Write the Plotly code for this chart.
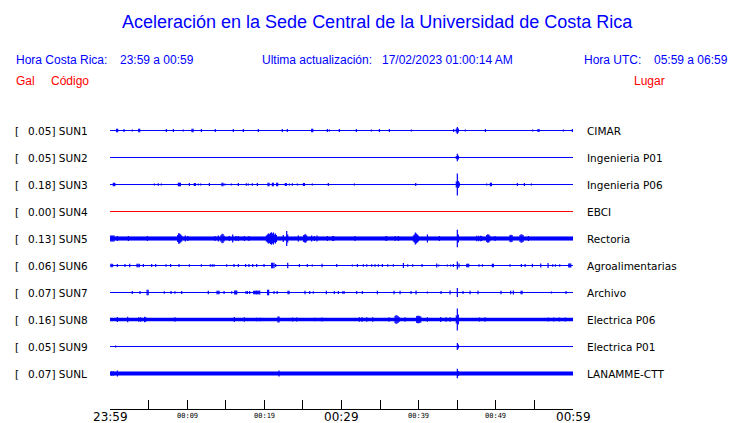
import plotly.graph_objects as go

# ---------------- data ----------------
STATIONS = ["SUN1", "SUN2", "SUN3", "SUN4", "SUN5", "SUN6", "SUN7", "SUN8", "SUN9", "SUNL"]
PEAK_GAL = [0.05, 0.05, 0.18, 0.00, 0.13, 0.06, 0.07, 0.16, 0.05, 0.07]
PLACES = ["CIMAR", "Ingenieria P01", "Ingenieria P06", "EBCI", "Rectoria",
          "Agroalimentarias", "Archivo", "Electrica P06", "Electrica P01", "LANAMME-CTT"]
# background noise half-width of each trace (amplitude units)
NOISE = [0, 0, 0, 0, 1.8, 0, 0, 1.5, 0, 1.7]

# event times (minutes after 23:59) and half amplitudes for each station
T_SUN1 = [0.86, 0.99, 1.81, 2.89, 3.72, 3.85, 7.30, 8.21, 9.50, 10.63, 10.76, 11.84, 13.65, 15.98, 17.28,
          19.22, 22.33, 22.98, 26.14, 26.27, 28.17, 28.43, 29.72, 31.93, 33.87, 34.91, 36.20, 39.05, 44.54,
          44.88, 45.01, 45.14, 46.05, 48.65, 54.78, 55.47, 55.60, 58.75, 59.92]
A_SUN1 = [1.8, 1.8, 1.5, 1, 1.8, 1.8, 1.5, 1.5, 1, 1.8, 1.8, 1.5, 1.5, 1.5, 1.5,
          1.5, 1.5, 1.5, 1.8, 1.8, 1.5, 1, 1.5, 1.5, 1, 1.5, 1.5, 1, 1.5,
          2, 3.5, 2, 1, 1.5, 1, 1.5, 1.5, 1, 1.5]

T_SUN2 = [44.88, 45.01, 45.14]
A_SUN2 = [1.5, 3.8, 2]

T_SUN3 = [0.43, 0.56, 0.69, 5.75, 6.26, 6.65, 8.86, 8.99, 9.12, 10.28, 10.93, 11.06, 11.45, 11.75, 12.87,
          14.51, 14.64, 14.90, 15.72, 16.63, 17.67, 17.93, 18.45, 19.09, 20.48, 20.61, 21.04, 21.17, 21.60,
          21.73, 22.72, 22.85, 23.24, 23.63, 24.28, 25.06, 25.19, 26.22, 28.29, 31.67, 39.62, 44.88, 45.01,
          45.14, 45.27, 48.82, 49.29, 49.42, 52.79, 53.70, 54.61]
A_SUN3 = [1.8, 1.8, 1, 1, 1.2, 1, 1.7, 1.7, 1.7, 1.5, 1.5, 1.5, 1, 1, 1.5,
          1.7, 1.7, 1, 1, 1.5, 1.2, 1, 1.2, 1.5, 1.7, 1.7, 1.7, 1.7, 1.7,
          1.7, 1.5, 1.5, 1, 1.2, 1, 1.5, 1.5, 1, 1.5, 1, 1.5, 3, 11,
          3.5, 2, 1, 1.7, 1.7, 1.5, 1.5, 1]

T_SUN4 = []
A_SUN4 = []

T_SUN5 = [0.0, 0.13, 0.26, 0.39, 0.52, 0.95, 2.38, 4.84, 8.77, 8.90, 9.03, 9.16, 9.29, 9.76, 10.07,
          13.61, 14.04, 14.39, 14.52, 14.65, 14.78, 15.47, 15.90, 16.33, 16.63, 17.41, 18.01, 20.26, 20.39,
          20.52, 20.65, 20.78, 20.91, 21.04, 21.17, 21.30, 21.43, 21.56, 22.46, 22.90, 23.03, 24.41, 25.10,
          25.23, 25.36, 25.49, 26.13, 26.48, 26.83, 28.17, 28.86, 28.99, 31.75, 35.73, 35.86, 36.94, 37.37,
          39.31, 39.44, 39.57, 39.70, 39.83, 39.96, 41.13, 42.68, 45.01, 45.14, 47.52, 47.78, 48.04, 48.17,
          48.82, 48.95, 49.08, 49.21, 49.90, 51.84, 51.97, 52.10, 53.14, 53.27, 53.40, 53.53, 54.22]
A_SUN5 = [3, 3, 3, 3, 3, 2.5, 2.5, 2.5, 3.5, 5.3, 5, 4, 3, 3, 2.5,
          2.5, 3, 3.5, 4.7, 4.5, 3, 2.5, 4, 2.5, 2.5, 2.5, 2.5, 3, 4,
          5, 4.5, 5.5, 6.3, 5, 6, 4, 5, 3.5, 3.5, 7.5, 4, 3, 3.5,
          4, 4.2, 3, 3, 2.5, 3, 2.5, 2.5, 2.5, 2.5, 2.3, 2.3, 2.5, 2.5,
          3, 4, 6, 5, 4, 3, 4, 2.5, 8.8, 4, 2.8, 2.8, 2.8, 2.5,
          3.5, 4.2, 4, 3, 2.5, 3.5, 3.7, 3.5, 3.5, 4.2, 4, 3.5, 2.5]

T_SUN6 = [0.13, 0.26, 0.35, 0.95, 1.94, 2.55, 3.50, 3.63, 3.80, 4.32, 5.40, 5.92, 7.26, 7.86, 8.94,
          10.28, 11.84, 13.00, 13.26, 13.48, 15.12, 16.07, 16.63, 17.58, 18.01, 18.49, 19.01, 19.96, 20.95,
          21.08, 21.25, 21.47, 23.03, 24.54, 25.57, 26.22, 27.48, 29.38, 31.41, 32.06, 32.83, 33.27, 33.91,
          34.35, 34.78, 35.30, 35.99, 36.72, 38.02, 38.58, 39.23, 40.44, 42.34, 42.60, 43.72, 44.15, 44.50,
          45.01, 45.23, 46.23, 46.36, 46.49, 47.82, 48.26, 49.55, 49.68, 51.84, 53.31, 53.79, 54.74, 55.82,
          56.77, 57.37, 57.72, 58.28, 59.45, 59.58, 59.71]
A_SUN6 = [1.7, 1.7, 1.2, 1.5, 1.5, 1.7, 1.8, 1.8, 1.8, 1.5, 1.5, 1.5, 1.3, 1.5, 1.5,
          1.2, 1.2, 1.2, 1.2, 1.2, 1.2, 1.5, 1.5, 1.5, 1.5, 1.5, 1.5, 1.5, 2.7,
          2.7, 2.7, 1.5, 2.7, 1.5, 1.5, 1, 1.8, 1.5, 1, 1.5, 1.2, 1.2, 1.2,
          1.2, 1.2, 1.5, 1.2, 1.2, 2.5, 1.2, 1.2, 1.5, 2, 1, 1, 1, 1.5,
          4, 2, 1.7, 1.7, 1.7, 1.2, 1.2, 1.7, 1.7, 1.2, 1.5, 1.5, 1.7, 2,
          2.5, 1.2, 1.2, 1.2, 2, 2, 2]

T_SUN7 = [2.89, 3.89, 4.81, 4.94, 7.04, 7.91, 8.42, 9.29, 12.74, 13.87, 14.00, 14.13, 14.78, 15.77, 16.16,
          16.29, 16.42, 17.63, 17.80, 18.10, 18.62, 18.75, 18.88, 19.01, 19.14, 19.27, 19.40, 20.43, 20.56,
          21.26, 21.66, 23.07, 23.20, 25.27, 25.88, 26.35, 28.04, 29.07, 29.59, 30.16, 30.33, 31.97, 32.70,
          34.65, 36.81, 37.59, 39.01, 39.66, 41.13, 42.90, 44.07, 45.01, 45.75, 46.66, 47.69, 50.67, 51.93,
          52.27, 53.27, 53.40, 57.20, 59.10]
A_SUN7 = [1.5, 1.5, 2.7, 2.7, 1.2, 1.5, 1.2, 1.5, 1.8, 1.8, 1.8, 1.8, 1.5, 1.2, 2,
          2, 2, 1.5, 1.5, 1.5, 1.7, 1.7, 1.7, 2, 1.7, 1.7, 2, 2.7, 2.7,
          1.5, 1.5, 1.7, 1.7, 1.7, 1.5, 1.2, 1.7, 1.5, 1.5, 1.2, 1.5, 1.5, 1.5,
          1.7, 1.7, 1.7, 1.5, 2, 1, 1.5, 2, 4.5, 1.5, 1.7, 1.7, 1.7, 1.7,
          2, 1.7, 1.7, 1, 1.5]

T_SUN8 = [0.95, 2.29, 3.72, 3.98, 4.49, 4.62, 8.42, 16.11, 17.41, 19.01, 19.48, 21.77, 21.90, 23.67, 24.19,
          26.52, 27.47, 32.32, 32.66, 33.27, 34.04, 36.16, 36.94, 37.07, 37.20, 37.33, 37.46, 38.23, 39.75,
          39.88, 40.01, 40.14, 40.27, 41.13, 42.86, 43.55, 44.07, 44.88, 45.01, 45.14, 47.87, 48.60, 56.80,
          57.50, 58.20, 59.00]
A_SUN8 = [2.5, 2.7, 2.3, 2.3, 2.7, 2.3, 2.2, 2.5, 2.2, 1.8, 1.8, 3, 3, 2, 2,
          1.8, 2, 2.3, 2.3, 2.3, 2.3, 2.3, 3.5, 4.5, 4, 3.5, 2.5, 2.3, 3.5,
          3.7, 3.7, 3.5, 3, 2.3, 2.5, 2.3, 2.3, 4, 11, 5, 2, 2.3, 2,
          2, 2, 2]

T_SUN9 = [0.73, 45.01, 45.14]
A_SUN9 = [1, 3.5, 2]

T_SUNL = [0.22, 0.43, 0.95, 21.90, 45.01, 45.14]
A_SUNL = [2.2, 2.2, 3, 3, 4.7, 2.5]

EVENT_T = [T_SUN1, T_SUN2, T_SUN3, T_SUN4, T_SUN5, T_SUN6, T_SUN7, T_SUN8, T_SUN9, T_SUNL]
EVENT_A = [A_SUN1, A_SUN2, A_SUN3, A_SUN4, A_SUN5, A_SUN6, A_SUN7, A_SUN8, A_SUN9, A_SUNL]

TICK_MIN = [0, 5, 10, 15, 20, 25, 30, 35, 40, 45, 50, 55, 60]
LABEL_MIN = [0, 10, 20, 30, 40, 50, 60]
LABEL_TXT = ["23:59", "00:09", "00:19", "00:29", "00:39", "00:49", "00:59"]
MAJOR_LABELS = ["23:59", "00:29", "00:59"]

TITLE = "Aceleración en la Sede Central de la Universidad de Costa Rica"

# ---------------- layout constants ----------------
W, H = 740, 423
PL, PR, PT, PB = 110, 573, 103, 409   # plot area in pixels
ROW = 27                               # row spacing in amplitude units
BLUE = "#0000ff"
RED = "#ff0000"


def pxx(px):
    return (px - PL) / (PR - PL)


def pxy(py):
    return (PB - py) / (PB - PT)


fig = go.Figure()

for i, name in enumerate(STATIONS):
    off = -ROW * i
    color = RED if PEAK_GAL[i] == 0 else BLUE
    n = NOISE[i]
    # baseline
    fig.add_trace(go.Scatter(x=[0, 60], y=[off, off], mode="lines",
                             line=dict(color=color, width=1), hoverinfo="skip"))
    if n > 0:
        fig.add_trace(go.Scatter(x=[0, 60, 60, 0, 0], y=[off - n, off - n, off + n, off + n, off - n],
                                 mode="lines", fill="toself", fillcolor=color,
                                 line=dict(color=color, width=0.5), hoverinfo="skip"))
    xs, ys = [], []
    for t, a in zip(EVENT_T[i], EVENT_A[i]):
        xs += [t, t, None]
        ys += [off - a, off + a, None]
    if xs:
        fig.add_trace(go.Scatter(x=xs, y=ys, mode="lines", connectgaps=False,
                                 line=dict(color=color, width=1.2), hoverinfo="skip"))

ann = []
sfont = dict(family="DejaVu Sans", size=10.5, color="black")
# station labels
for i, name in enumerate(STATIONS):
    off = -ROW * i
    ann.append(dict(x=pxx(13), y=off, xref="paper", yref="y", text="[", showarrow=False,
                    xanchor="left", yanchor="middle", font=sfont))
    ann.append(dict(x=pxx(26), y=off, xref="paper", yref="y", text=f"{PEAK_GAL[i]:.2f}] {name}",
                    showarrow=False, xanchor="left", yanchor="middle", font=sfont))
    ann.append(dict(x=pxx(585), y=off, xref="paper", yref="y", text=PLACES[i], showarrow=False,
                    xanchor="left", yanchor="middle", font=sfont))

# time labels
for t, lab in zip(LABEL_MIN, LABEL_TXT):
    if lab in MAJOR_LABELS:
        ann.append(dict(x=t, y=pxy(416.5), xref="x", yref="paper", text=lab, showarrow=False,
                        xanchor="center", yanchor="middle", borderpad=0,
                        font=dict(family="DejaVu Sans", size=12, color="black")))
    else:
        ann.append(dict(x=t, y=pxy(415.5), xref="x", yref="paper", text=lab, showarrow=False,
                        xanchor="center", yanchor="middle", borderpad=0,
                        font=dict(family="DejaVu Sans Mono", size=7, color="black")))

hfont = dict(family="Liberation Sans", size=12, color=BLUE)
rfont = dict(family="Liberation Sans", size=12, color=RED)
header = [
    (14, 60, "Hora Costa Rica:", hfont),
    (118, 60, "23:59 a 00:59", hfont),
    (260, 60, "Ultima actualización:", hfont),
    (380, 60, "17/02/2023 01:00:14 AM", hfont),
    (582, 60, "Hora UTC:", hfont),
    (652, 60, "05:59 a 06:59", hfont),
    (14, 81, "Gal", rfont),
    (49, 81, "Código", rfont),
    (632, 81, "Lugar", rfont),
]
for px, py, txt, f in header:
    ann.append(dict(x=pxx(px), y=pxy(py), xref="paper", yref="paper", text=txt, showarrow=False,
                    xanchor="left", yanchor="middle", font=f))

ann.append(dict(x=pxx(377), y=pxy(22), xref="paper", yref="paper", text=TITLE, showarrow=False,
                xanchor="center", yanchor="middle",
                font=dict(family="Liberation Sans", size=18, color=BLUE)))

fig.update_layout(
    width=W, height=H,
    margin=dict(l=PL, r=W - PR, t=PT, b=H - PB, pad=0),
    paper_bgcolor="white", plot_bgcolor="white",
    showlegend=False,
    annotations=ann,
    xaxis=dict(range=[0, 60], tickmode="array", tickvals=TICK_MIN, ticks="inside", ticklen=9,
               tickcolor="black", tickwidth=1, showticklabels=False, showline=True,
               linecolor="black", linewidth=1, showgrid=False, zeroline=False, fixedrange=True),
    yaxis=dict(range=[-(PB - 130) + 0.5, 130 - PT + 0.5], visible=False, showgrid=False,
               zeroline=False, fixedrange=True),
)

fig.write_html("out.html", config={"displayModeBar": False},
               post_script="document.body.style.margin='0';document.body.style.overflow='hidden';")
